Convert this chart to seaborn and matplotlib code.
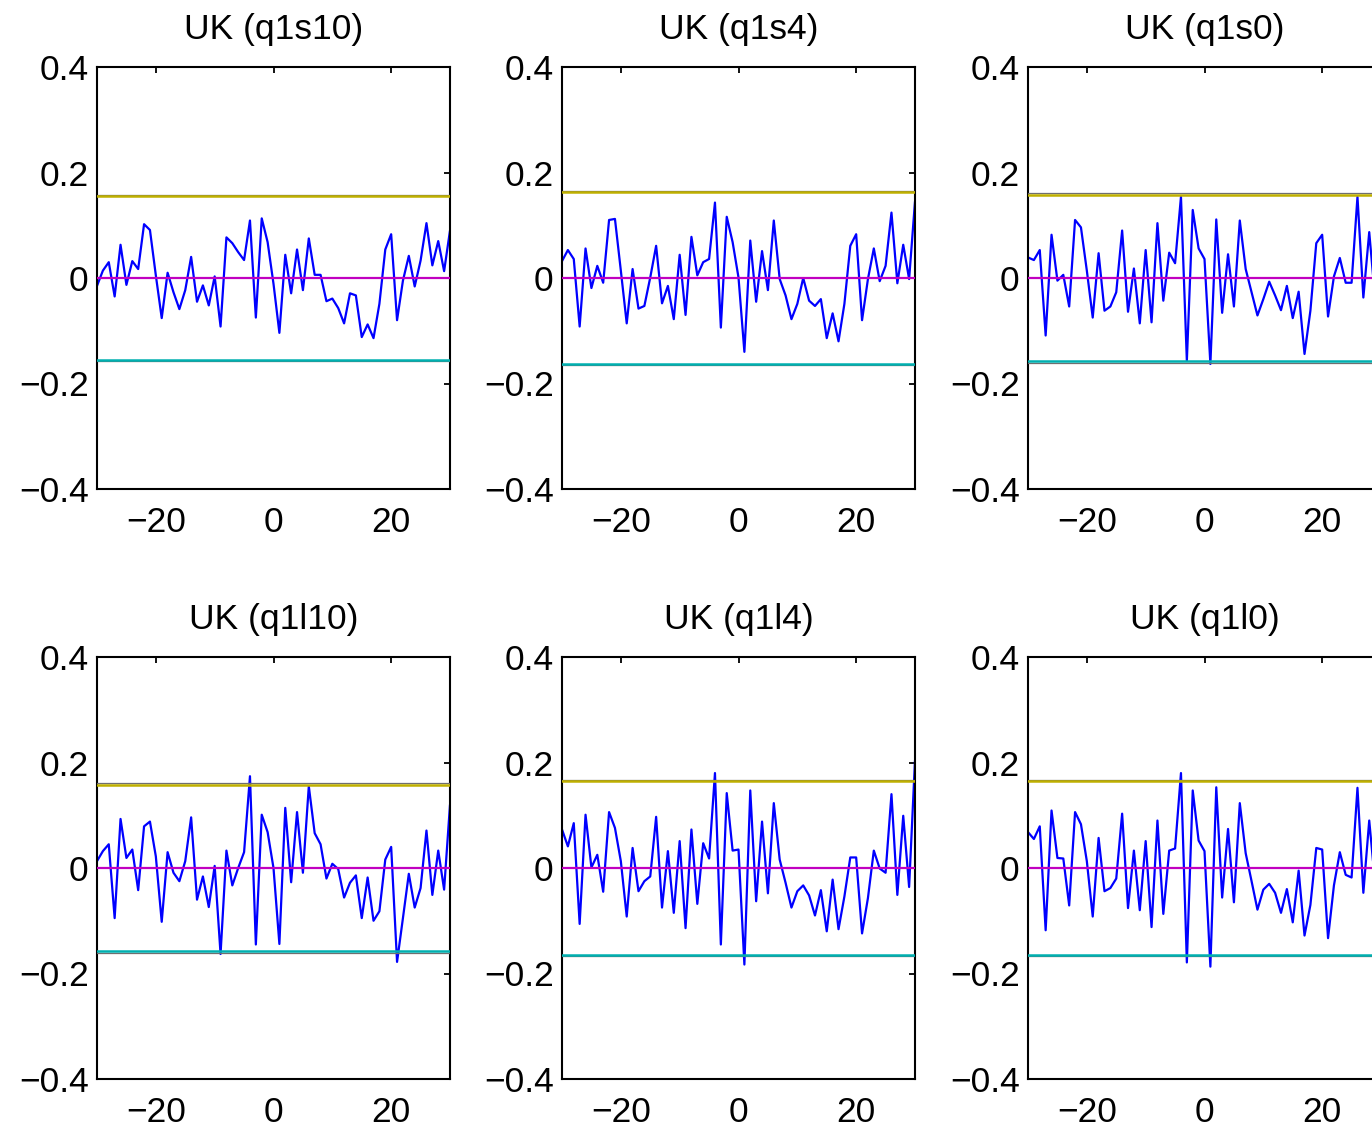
import numpy as np
import pandas as pd
import matplotlib
matplotlib.use("Agg")
import matplotlib.pyplot as plt
import seaborn as sns

lags = list(range(-30, 31))

titles = ["UK (q1s10)", "UK (q1s4)", "UK (q1s0)", "UK (q1l10)", "UK (q1l4)", "UK (q1l0)"]

q1s10 = [-0.015, 0.014, 0.030, -0.035, 0.063, -0.013, 0.032, 0.017, 0.102, 0.091,
         0.005, -0.076, 0.010, -0.027, -0.059, -0.023, 0.040, -0.045, -0.014, -0.052,
         0.003, -0.092, 0.077, 0.066, 0.049, 0.034, 0.109, -0.075, 0.113, 0.068,
         -0.011, -0.104, 0.044, -0.029, 0.054, -0.023, 0.075, 0.006, 0.006, -0.044,
         -0.039, -0.057, -0.086, -0.029, -0.033, -0.112, -0.088, -0.114, -0.049, 0.054,
         0.083, -0.080, -0.005, 0.042, -0.016, 0.033, 0.104, 0.024, 0.070, 0.013,
         0.090]
q1s4 = [0.032, 0.053, 0.036, -0.092, 0.056, -0.019, 0.023, -0.009, 0.110, 0.112,
        0.014, -0.086, 0.017, -0.058, -0.053, 0.001, 0.061, -0.048, -0.015, -0.078,
        0.044, -0.070, 0.078, 0.005, 0.030, 0.036, 0.143, -0.094, 0.116, 0.068,
        0.001, -0.140, 0.071, -0.045, 0.051, -0.023, 0.109, -0.002, -0.033, -0.078,
        -0.049, 0.000, -0.043, -0.053, -0.040, -0.114, -0.067, -0.120, -0.049, 0.061,
        0.083, -0.080, -0.002, 0.056, -0.006, 0.023, 0.124, -0.010, 0.063, -0.002,
        0.145]
q1s0 = [0.039, 0.034, 0.053, -0.109, 0.082, -0.005, 0.006, -0.054, 0.110, 0.096,
        0.014, -0.075, 0.047, -0.062, -0.054, -0.027, 0.090, -0.064, 0.018, -0.086,
        0.053, -0.084, 0.104, -0.043, 0.048, 0.028, 0.154, -0.157, 0.129, 0.056,
        0.036, -0.163, 0.111, -0.066, 0.045, -0.054, 0.109, 0.017, -0.027, -0.071,
        -0.040, -0.007, -0.033, -0.061, -0.015, -0.076, -0.026, -0.144, -0.062, 0.066,
        0.082, -0.073, 0.003, 0.038, -0.009, -0.009, 0.154, -0.037, 0.087, -0.040,
        0.060]
q1l10 = [0.013, 0.032, 0.045, -0.095, 0.093, 0.019, 0.035, -0.042, 0.079, 0.088,
         0.022, -0.102, 0.030, -0.009, -0.025, 0.013, 0.096, -0.060, -0.016, -0.074,
         0.004, -0.163, 0.033, -0.033, 0.000, 0.030, 0.174, -0.145, 0.101, 0.068,
         0.000, -0.144, 0.114, -0.027, 0.106, -0.009, 0.155, 0.066, 0.045, -0.020,
         0.008, -0.002, -0.056, -0.028, -0.014, -0.095, -0.018, -0.100, -0.082, 0.016,
         0.040, -0.178, -0.095, -0.011, -0.075, -0.038, 0.071, -0.051, 0.033, -0.041,
         0.120]
q1l4 = [0.073, 0.041, 0.085, -0.106, 0.101, 0.001, 0.025, -0.045, 0.106, 0.076,
        0.013, -0.092, 0.038, -0.044, -0.025, -0.016, 0.097, -0.075, 0.032, -0.085,
        0.051, -0.114, 0.073, -0.068, 0.047, 0.018, 0.180, -0.145, 0.142, 0.033,
        0.035, -0.183, 0.147, -0.063, 0.088, -0.048, 0.123, 0.016, -0.028, -0.075,
        -0.044, -0.033, -0.052, -0.090, -0.042, -0.120, -0.022, -0.116, -0.054, 0.020,
        0.020, -0.124, -0.057, 0.033, -0.001, -0.009, 0.140, -0.051, 0.099, -0.036,
        0.204]
q1l0 = [0.068, 0.055, 0.079, -0.118, 0.109, 0.019, 0.018, -0.071, 0.106, 0.083,
        0.013, -0.092, 0.057, -0.044, -0.038, -0.020, 0.103, -0.076, 0.033, -0.080,
        0.051, -0.112, 0.090, -0.087, 0.033, 0.037, 0.180, -0.179, 0.147, 0.052,
        0.032, -0.187, 0.153, -0.056, 0.074, -0.065, 0.123, 0.028, -0.025, -0.079,
        -0.041, -0.030, -0.047, -0.085, -0.040, -0.103, -0.005, -0.128, -0.070, 0.038,
        0.035, -0.133, -0.033, 0.030, -0.013, -0.018, 0.152, -0.047, 0.090, -0.030,
        0.080]

series = [q1s10, q1s4, q1s0, q1l10, q1l4, q1l0]
bounds = [0.156, 0.163, 0.158, 0.158, 0.165, 0.164]

yticks = [-0.4, -0.2, 0, 0.2, 0.4]
ytick_labels = ["\u22120.4", "\u22120.2", "0", "0.2", "0.4"]
xticks = [-20, 0, 20]
xtick_labels = ["\u221220", "0", "20"]

sns.set_style("white")
plt.rcParams['font.family'] = ['Liberation Sans', 'DejaVu Sans']

W, H = 1372, 1131
fig = plt.figure(figsize=(W / 100, H / 100), dpi=100)

col_left = [97, 562, 1028]
row_top = [67, 657]
aw, ah = 353, 422
FS = 25.5

for k, (vals, title, b) in enumerate(zip(series, titles, bounds)):
    r, c = divmod(k, 3)
    left = col_left[c] / W
    bottom = 1 - (row_top[r] + ah) / H
    ax = fig.add_axes([left, bottom, aw / W, ah / H])
    df = pd.DataFrame({"lag": lags, "xcf": vals})
    sns.lineplot(data=df, x="lag", y="xcf", ax=ax, color="#0000ff", lw=1.6, zorder=2)
    # bound lines with dark edge
    ax.axhline(b + 0.0022, color="#6f6f6f", lw=0.9, zorder=3)
    ax.axhline(b, color="#bfb000", lw=1.8, zorder=4)
    ax.axhline(-b - 0.0022, color="#6f6f6f", lw=0.9, zorder=3)
    ax.axhline(-b, color="#00b0b0", lw=1.8, zorder=4)
    ax.axhline(0, color="#c000c0", lw=1.6, zorder=4)
    ax.set_xlim(-30, 30)
    ax.set_ylim(-0.4, 0.4)
    ax.set_xticks(xticks)
    ax.set_xticklabels(xtick_labels)
    ax.set_yticks(yticks)
    ax.set_yticklabels(ytick_labels)
    ax.set_xlabel("")
    ax.set_ylabel("")
    ax.tick_params(direction="in", length=4, width=1.3, top=True, right=True,
                   labelsize=FS, pad=6, colors="black")
    ax.tick_params(axis="x", pad=12)
    for s in ax.spines.values():
        s.set_visible(True)
        s.set_color("black")
        s.set_linewidth(1.5)
    ax.set_title(title, fontsize=FS, pad=20, color="black")

fig.savefig("out.png", dpi=100)
